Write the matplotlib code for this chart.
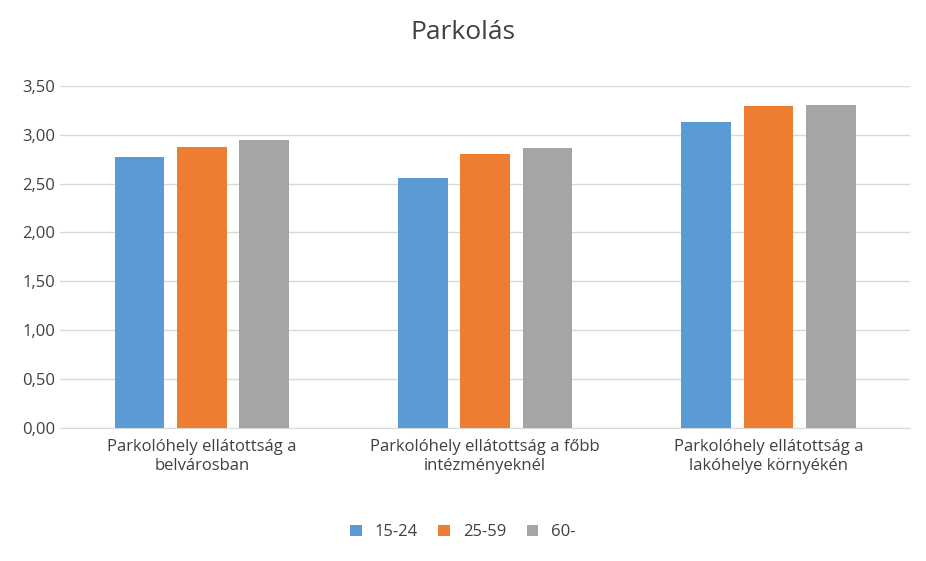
import matplotlib.pyplot as plt
import numpy as np
from matplotlib.ticker import FuncFormatter

categories = ["Parkolóhely ellátottság a\nbelvárosban",
              "Parkolóhely ellátottság a főbb\nintézményeknél",
              "Parkolóhely ellátottság a\nlakóhelye környékén"]
series_names = ["15-24", "25-59", "60-"]
v_15_24 = [2.77, 2.56, 3.13]
v_25_59 = [2.87, 2.80, 3.29]
v_60 = [2.95, 2.86, 3.30]
colors = ["#5B9BD5", "#ED7D31", "#A5A5A5"]

plt.rcParams["font.family"] = "Open Sans"
fig = plt.figure(figsize=(9.26, 5.61), dpi=100)
ax = fig.add_axes([0.065, 0.237, 0.918, 0.61])

x = np.arange(len(categories))
w = 0.22
for i, (vals, name) in enumerate(zip([v_15_24, v_25_59, v_60], series_names)):
    ax.bar(x + (i - 1) * w, vals, width=0.175, color=colors[i], label=name, zorder=3)

ax.set_ylim(0, 3.5)
ax.set_yticks(np.arange(0, 3.51, 0.5))
ax.yaxis.set_major_formatter(FuncFormatter(lambda v, p: f"{v:.2f}".replace(".", ",")))
ax.set_xlim(-0.5, 2.5)
ax.set_xticks(x)
ax.set_xticklabels(categories, fontsize=12, color="#404040")
ax.tick_params(axis="y", labelsize=12, colors="#404040", length=0)
ax.tick_params(axis="x", length=0, pad=8)
ax.grid(axis="y", color="#D9D9D9", linewidth=1, zorder=0)
for s in ["top", "right", "left"]:
    ax.spines[s].set_visible(False)
ax.spines["bottom"].set_color("#D9D9D9")

fig.suptitle("Parkolás", fontsize=19, color="#404040", y=0.965)
fig.legend(loc="lower center", ncol=3, frameon=False, fontsize=12,
           bbox_to_anchor=(0.5, 0.01), handlelength=0.7, handleheight=0.7,
           columnspacing=1.2, labelcolor="#404040")

fig.savefig("out.png", dpi=100)
